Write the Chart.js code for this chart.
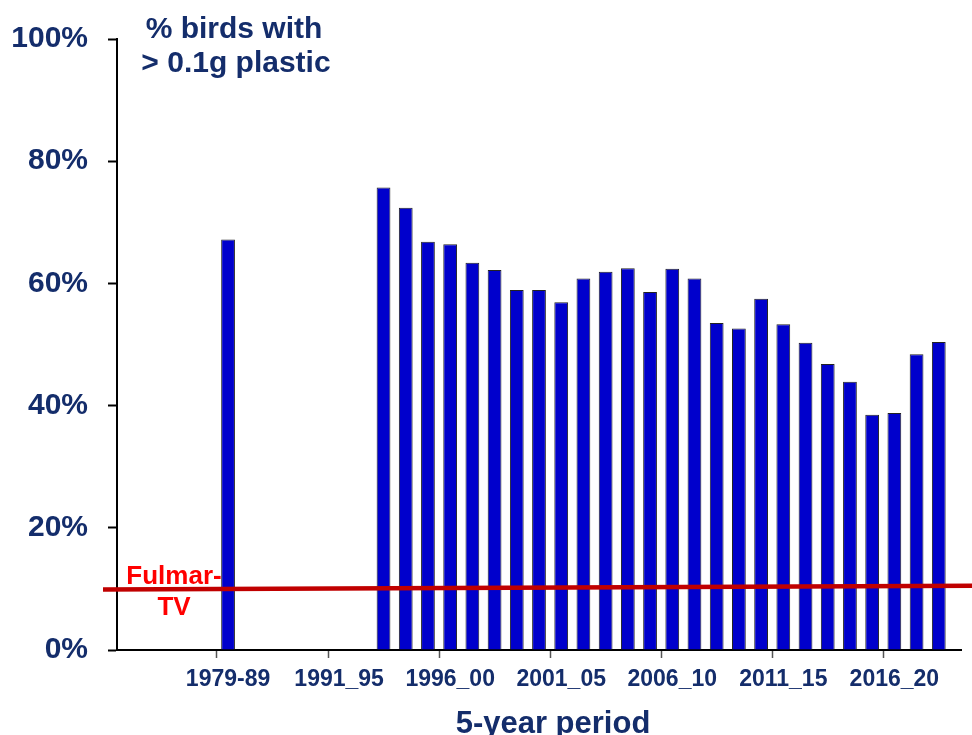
<!DOCTYPE html>
<html>
<head>
<meta charset="utf-8">
<script src="https://cdn.jsdelivr.net/npm/chart.js@4/dist/chart.umd.min.js"></script>
<style>
  body { margin: 0; background: #fff; }
  #wrap { width: 972px; height: 735px; }
</style>
</head>
<body>
<div id="wrap"><canvas id="plastic_chart" width="972" height="735"></canvas></div>
<script>
// 5-year periods (one bar per running period, labels shown every 5th)
var periods = [
    '', '', '', '', '', '1979-89', '', '', '', '',
    '1991_95', '1992_96', '1993_97', '1994_98', '1995_99',
    '1996_00', '1997_01', '1998_02', '1999_03', '2000_04',
    '2001_05', '2002_06', '2003_07', '2004_08', '2005_09',
    '2006_10', '2007_11', '2008_12', '2009_13', '2010_14',
    '2011_15', '2012_16', '2013_17', '2014_18', '2015_19',
    '2016_20', '2017_21', '2018_22', ''
];
// % birds with > 0.1g plastic
var pctBirds = [
    null, null, null, null, null, 67.2, null, null, null, null,
    null, null, 75.7, 72.4, 66.8,
    66.4, 63.4, 62.2, 58.9, 58.9,
    56.9, 60.8, 61.9, 62.5, 58.6,
    62.4, 60.8, 53.5, 52.6, 57.5,
    53.3, 50.3, 46.8, 43.9, 38.5,
    38.8, 48.4, 50.4, null
];
var yTicks = [0, 20, 40, 60, 80, 100];
// Fulmar target value (start, end of the drawn line)
var fulmarTV = [9.9, 10.5];

var navy = '#142d6b';
var fontFam = '"Liberation Sans", Arial, sans-serif';

var extras = {
    id: 'extras',
    afterDraw: function(chart) {
        var ctx = chart.ctx;
        var area = chart.chartArea;
        var y = chart.scales.y;

        // Fulmar-TV line
        ctx.save();
        ctx.strokeStyle = '#c00000';
        ctx.lineWidth = 4.5;
        ctx.beginPath();
        ctx.moveTo(area.left - 14, y.getPixelForValue(fulmarTV[0]));
        ctx.lineTo(chart.width, y.getPixelForValue(fulmarTV[1]));
        ctx.stroke();

        ctx.fillStyle = '#ff0000';
        ctx.font = 'bold 26px ' + fontFam;
        ctx.textAlign = 'center';
        ctx.textBaseline = 'alphabetic';
        ctx.fillText('Fulmar-', area.left + 57, y.getPixelForValue(fulmarTV[0]) - 6);
        ctx.fillText('TV', area.left + 57, y.getPixelForValue(fulmarTV[0]) + 25);

        // y title in the corner
        ctx.fillStyle = navy;
        ctx.font = 'bold 30px ' + fontFam;
        ctx.fillText('% birds with', 234, 38);
        ctx.fillText('> 0.1g plastic', 236, 72);

        // x title
        ctx.font = 'bold 31px ' + fontFam;
        ctx.fillText('5-year period', 553, 733);
        ctx.restore();
    }
};

var ctx = document.getElementById('plastic_chart').getContext('2d');
var myBarChart = new Chart(ctx, {
    type: 'bar',
    data: {
        labels: periods,
        datasets: [{
            data: pctBirds,
            backgroundColor: '#0000cc',
            borderColor: '#222',
            borderWidth: 1,
            borderSkipped: 'bottom',
            barPercentage: 0.62,
            categoryPercentage: 1.0
        }]
    },
    options: {
        responsive: false,
        animation: false,
        layout: { padding: { top: 39, right: 11, left: 0, bottom: 0 } },
        plugins: {
            legend: { display: false },
            tooltip: { enabled: false }
        },
        scales: {
            x: {
                offset: false,
                border: { display: true, color: '#000', width: 2 },
                grid: {
                    drawOnChartArea: false,
                    drawTicks: true,
                    tickLength: 8,
                    tickWidth: 1.5,
                    tickColor: function(c) { return c.index % 5 === 0 ? '#555' : 'rgba(0,0,0,0)'; }
                },
                ticks: {
                    autoSkip: false,
                    maxRotation: 0,
                    minRotation: 0,
                    padding: 8,
                    color: navy,
                    font: { family: fontFam, size: 23, weight: 'bold' },
                    callback: function(v, i) { return i % 5 === 0 ? periods[i] : ''; }
                },
                afterFit: function(scale) { scale.height = 85; }
            },
            y: {
                min: 0,
                max: 100,
                border: { display: true, color: '#000', width: 2 },
                grid: {
                    drawOnChartArea: false,
                    drawTicks: true,
                    tickLength: 9,
                    tickWidth: 2,
                    tickColor: '#000'
                },
                afterBuildTicks: function(scale) {
                    scale.ticks = yTicks.map(function(v) { return { value: v }; });
                },
                ticks: {
                    padding: 20,
                    color: navy,
                    font: { family: fontFam, size: 30, weight: 'bold' },
                    callback: function(v) { return v + '%'; }
                },
                afterFit: function(scale) { scale.width = 117; }
            }
        }
    },
    plugins: [extras]
});
</script>
</body>
</html>
